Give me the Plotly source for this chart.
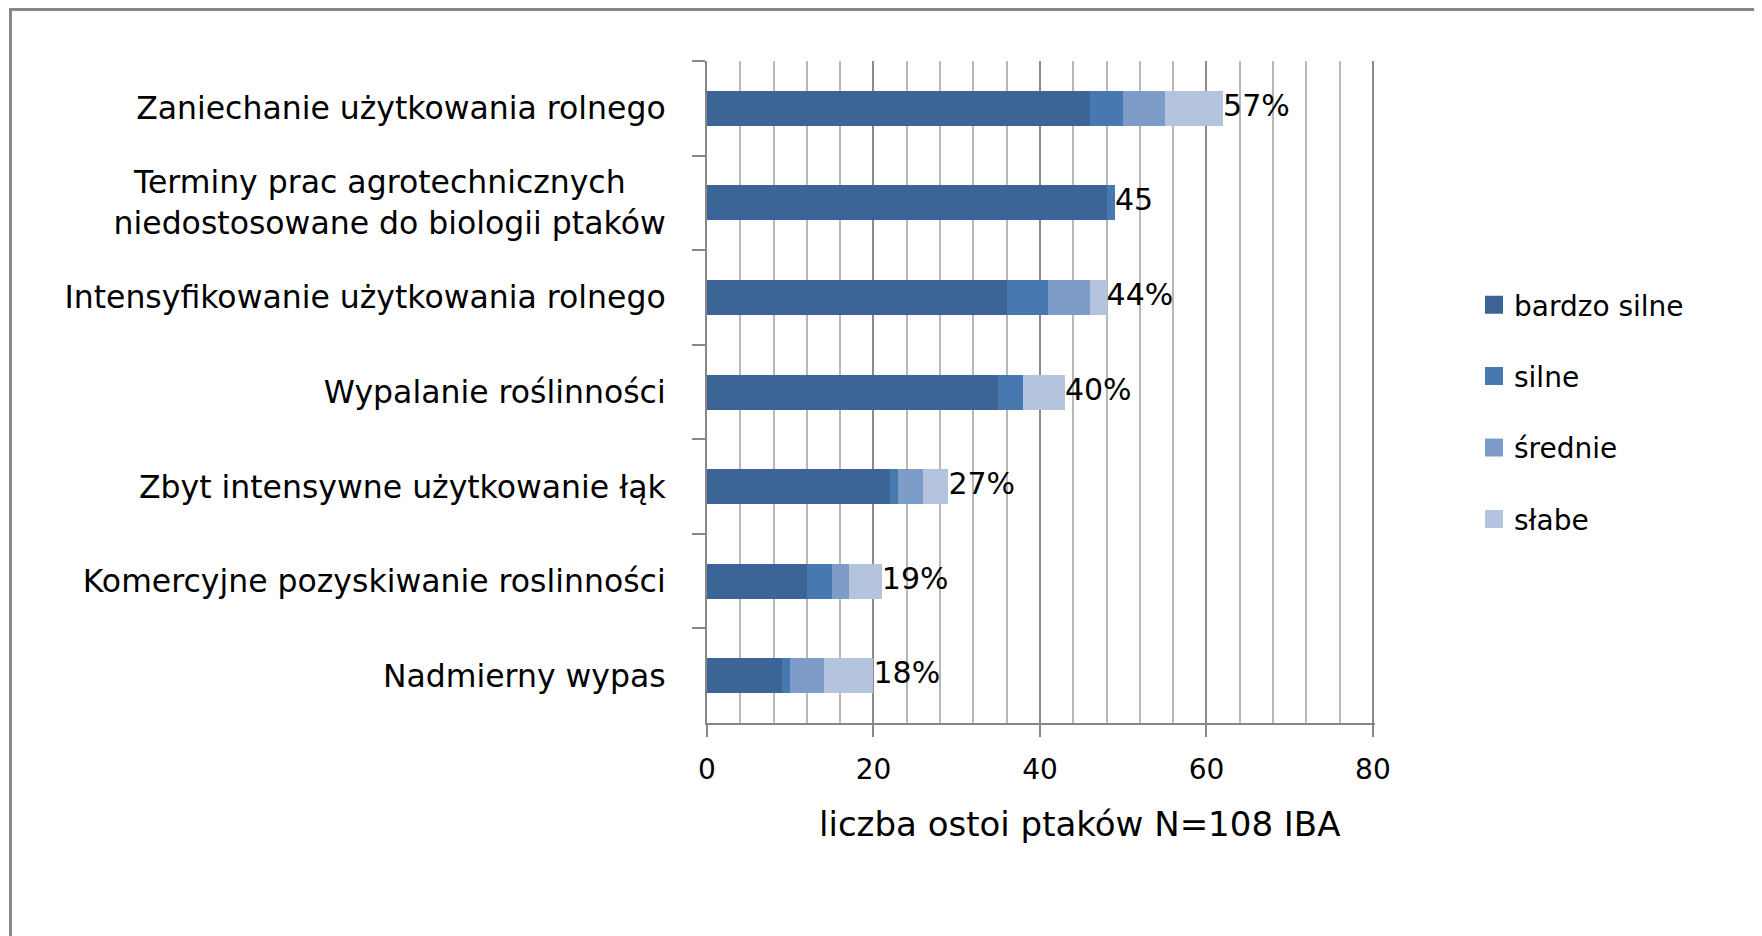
import plotly.graph_objects as go

categories = [
    "Zaniechanie użytkowania rolnego",
    "Terminy prac agrotechnicznych\u00a0\u00a0\u00a0\u00a0<br>niedostosowane do biologii ptaków",
    "Intensyfikowanie użytkowania rolnego",
    "Wypalanie roślinności",
    "Zbyt intensywne użytkowanie łąk",
    "Komercyjne pozyskiwanie roslinności",
    "Nadmierny wypas",
]
series_names = ["bardzo silne", "silne", "średnie", "słabe"]
bardzo_silne = [46, 48, 36, 35, 22, 12, 9]
silne = [4, 1, 5, 3, 1, 3, 1]
srednie = [5, 0, 5, 0, 3, 2, 4]
slabe = [7, 0, 2, 5, 3, 4, 6]
bar_labels = ["57%", "45", "44%", "40%", "27%", "19%", "18%"]
x_ticks = [0, 20, 40, 60, 80]
x_title = "liczba ostoi ptaków N=108 IBA"

colors = ["#3C6496", "#4878B0", "#7E9CC8", "#B4C4DE"]
FONT = "DejaVu Sans"

W, H = 1762, 936
OFF = 8  # page body margin
L, R, T, B = 707, 1375, 61, 723  # plot area in page pixels

fig = go.Figure()
for name, vals, col in zip(series_names, [bardzo_silne, silne, srednie, slabe], colors):
    fig.add_trace(go.Bar(
        y=categories, x=vals, name=name, orientation="h",
        marker=dict(color=col, line=dict(width=0)),
        legendgroup=name, showlegend=False, hoverinfo="x+name",
    ))
    # legend swatch entry (larger square than the default bar swatch)
    fig.add_trace(go.Scatter(
        x=[None], y=[None], mode="markers", name=name, legendgroup=name,
        marker=dict(symbol="square", size=16, color=col, line=dict(color=col, width=2)),
        showlegend=True, hoverinfo="skip",
    ))

totals = [a + b + c + d for a, b, c, d in zip(bardzo_silne, silne, srednie, slabe)]
fig.add_trace(go.Scatter(
    y=categories, x=totals, mode="text", text=bar_labels,
    textposition="middle right", cliponaxis=False, showlegend=False,
    textfont=dict(family=FONT, size=30, color="#000000"), hoverinfo="skip",
))

def px_x(px):
    return (px - L) / (R - L)

def px_y(py):
    return 1 - (py - T) / (B - T)

# outer chart border (left and top edges visible)
fig.add_shape(type="path", xref="paper", yref="paper",
              path=f"M {px_x(10.5)},{px_y(960)} L {px_x(10.5)},{px_y(9.5)} L {px_x(1790)},{px_y(9.5)}",
              line=dict(color="#878787", width=3))

fig.add_annotation(text=x_title, xref="paper", yref="paper",
                   x=px_x(1079), y=px_y(824), xanchor="center", yanchor="middle",
                   showarrow=False, font=dict(family=FONT, size=34, color="#000000"))

fig.update_layout(
    width=W, height=H,
    margin=dict(l=L - OFF, r=W + OFF - R, t=T - OFF, b=H + OFF - B, pad=0),
    paper_bgcolor="white", plot_bgcolor="white",
    barmode="stack", bargap=0.63,
    font=dict(family=FONT, size=28, color="#000000"),
    showlegend=True,
    legend=dict(x=px_x(1474), y=px_y(280), xanchor="left", yanchor="top",
                font=dict(family=FONT, size=28, color="#000000"),
                tracegroupgap=32, traceorder="grouped",
                bgcolor="rgba(0,0,0,0)"),
    xaxis=dict(range=[0, 80.25], tickvals=x_ticks, ticktext=[str(v) for v in x_ticks],
               showgrid=True, gridcolor="#8a8a8a", gridwidth=1.5,
               minor=dict(dtick=4, showgrid=True, gridcolor="#b8b8b8", gridwidth=1.5),
               showline=True, linecolor="#878787", linewidth=2,
               ticks="outside", ticklen=12, tickwidth=2, tickcolor="#878787",
               tickfont=dict(family=FONT, size=28, color="#000000"),
               ticklabelstandoff=8, zeroline=False, fixedrange=True),
    yaxis=dict(categoryorder="array", categoryarray=categories, autorange="reversed",
               tickson="boundaries", ticks="outside", ticklen=13, tickwidth=2,
               tickcolor="#878787", showline=True, linecolor="#878787", linewidth=2,
               showgrid=False, zeroline=False,
               tickfont=dict(family=FONT, size=31.5, color="#000000"),
               ticklabelstandoff=33, fixedrange=True),
)

fig.write_html("out.html")
